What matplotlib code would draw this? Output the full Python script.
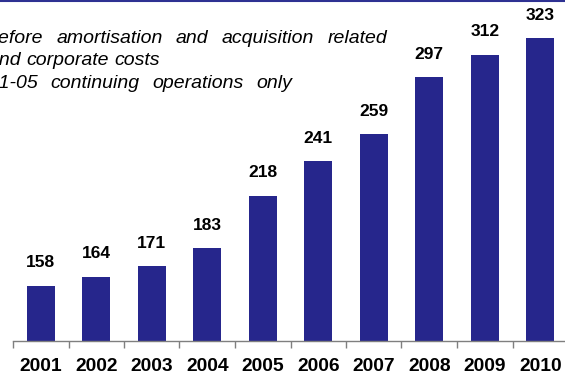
import matplotlib
matplotlib.use("Agg")
import matplotlib.pyplot as plt
from matplotlib.lines import Line2D

years = ["2001", "2002", "2003", "2004", "2005", "2006", "2007", "2008", "2009", "2010"]
values = [158, 164, 171, 183, 218, 241, 259, 297, 312, 323]
notes = [
    "Before amortisation and acquisition related",
    "and corporate costs",
    "2001-05 continuing operations only",
]

W, H = 565, 376
plt.rcParams["font.family"] = ["Liberation Sans", "DejaVu Sans"]
fig = plt.figure(figsize=(W / 100, H / 100), dpi=100)

bar_color = "#26268c"
axis_gray = "#7f7f7f"

# axes in pixel units: baseline at y=341, category band from x=13 to 568
left, right, bottom, top = 13, 568, 341, 0
ax = fig.add_axes([left / W, (H - bottom) / H, (right - left) / W, (bottom - top) / H])
px_per_unit = 1.5
ymin = 121
ax.set_ylim(ymin, ymin + (bottom - top) / px_per_unit)
ax.set_xlim(-0.5, len(years) - 0.5)

x = list(range(len(years)))
ax.bar(x, values, width=0.5, color=bar_color, zorder=2)

for xi, v in zip(x, values):
    ax.annotate(str(v), (xi, v), xytext=(0, 11), textcoords="offset points",
                ha="center", va="bottom", fontsize=12.5, fontweight="bold",
                color="black")

for s in ["top", "right", "left"]:
    ax.spines[s].set_visible(False)
ax.spines["bottom"].set_color(axis_gray)
ax.spines["bottom"].set_linewidth(1.0)
ax.set_yticks([])

# ticks at category boundaries, labels at centres
ax.set_xticks([i - 0.5 for i in range(len(years) + 1)])
ax.set_xticklabels([])
ax.tick_params(axis="x", which="major", direction="out", length=5,
               width=1.0, color=axis_gray)
ax.set_xticks(x, minor=True)
ax.set_xticklabels(years, minor=True, fontsize=13.9, fontweight="bold")
ax.tick_params(axis="x", which="minor", length=0, pad=12.5)

# justified footnote block at top-left (pixel coordinates)
renderer = fig.canvas.get_renderer()
note_size = 14.0
line_left = [-14.5, -11.5, -33.5]
line_right = [387, None, 292]
line_y = [43, 65, 88]


def word_width(word):
    t = fig.text(0, 0, word, fontsize=note_size, fontstyle="italic")
    w = t.get_window_extent(renderer).width
    t.remove()
    return w


space_w = word_width("a a") - 2 * word_width("a")
for text, lx, rx, ly in zip(notes, line_left, line_right, line_y):
    words = text.split()
    widths = [word_width(w) for w in words]
    if rx is None or len(words) < 2:
        gap = space_w
    else:
        gap = (rx - lx - sum(widths)) / (len(words) - 1)
    cx = lx
    for w, ww in zip(words, widths):
        fig.text(cx / W, 1 - ly / H, w, fontsize=note_size, fontstyle="italic",
                 color="black", ha="left", va="baseline")
        cx += ww + gap

# thin rule along the top edge
fig.add_artist(Line2D([0, 1], [1 - 1 / H, 1 - 1 / H], transform=fig.transFigure,
                      color="#2e3192", linewidth=1.5))

fig.savefig("out.png", dpi=100)
